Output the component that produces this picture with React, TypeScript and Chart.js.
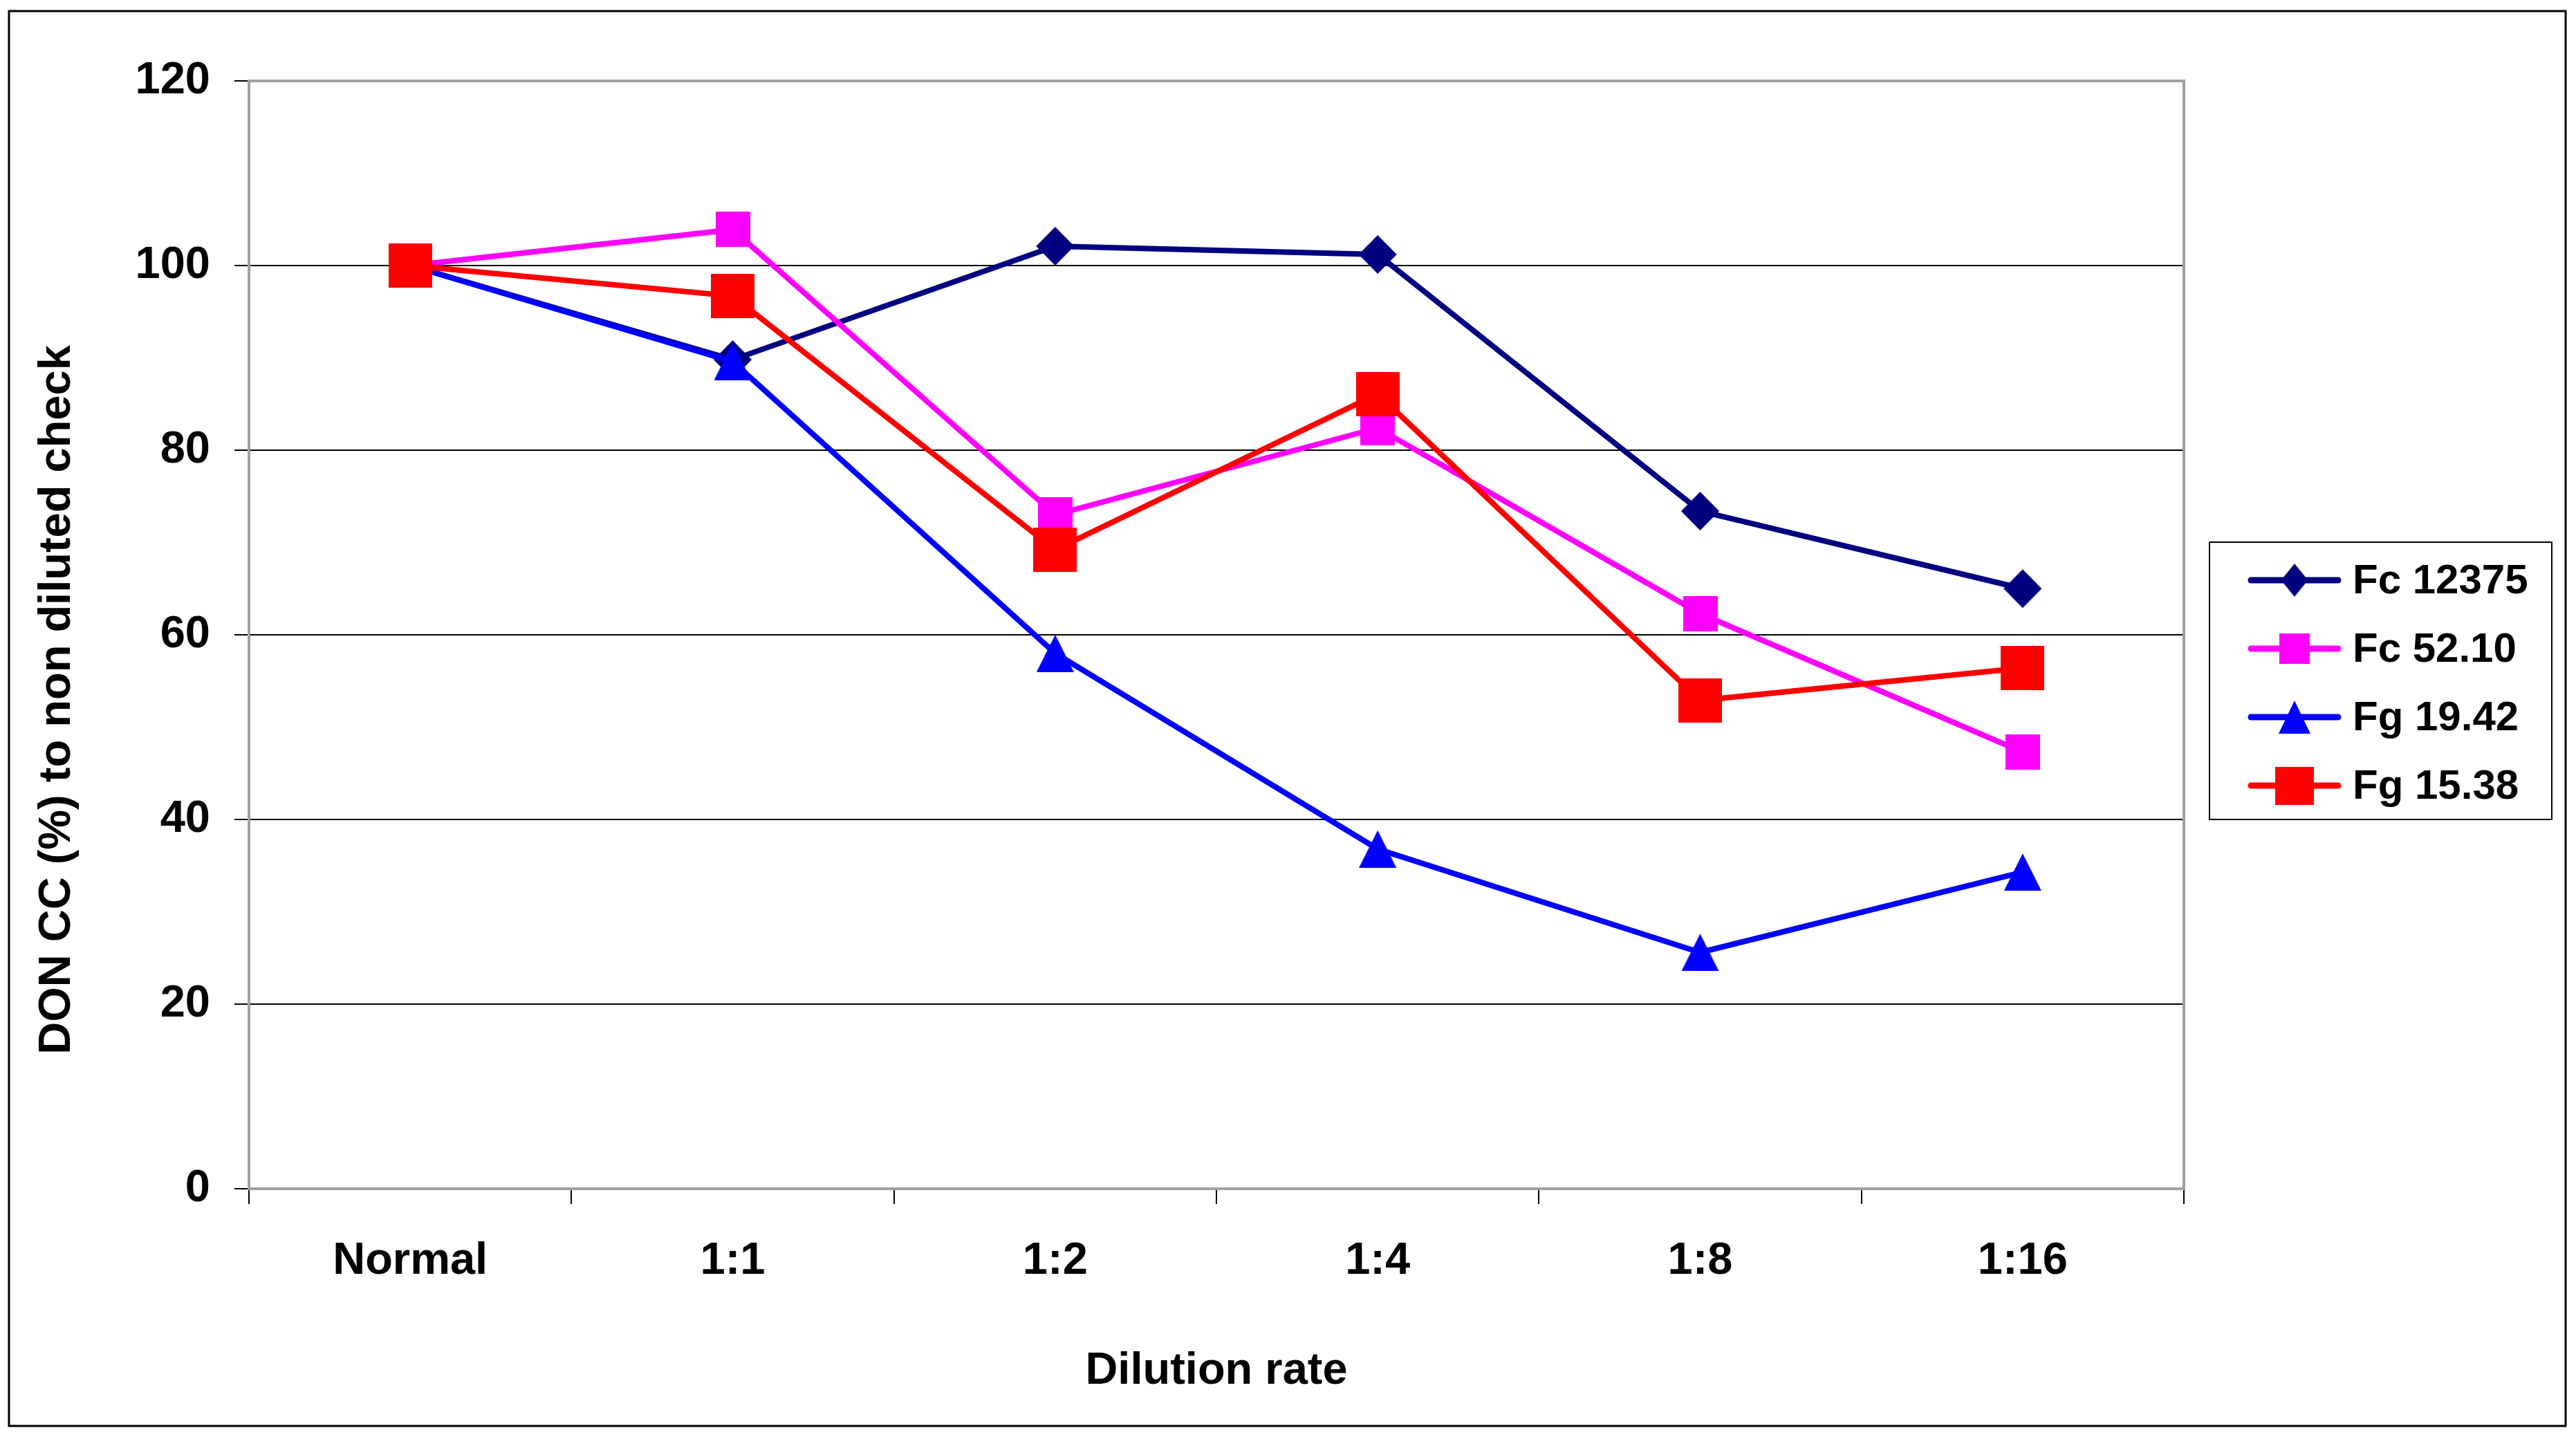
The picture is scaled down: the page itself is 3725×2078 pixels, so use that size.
import React, { useEffect, useRef } from 'react';
import { Chart, registerables } from 'chart.js';

Chart.register(...registerables);

const W = 3725;
const H = 2078;

const categories = ['Normal', '1:1', '1:2', '1:4', '1:8', '1:16'];
const seriesNames = ['Fc 12375', 'Fc 52.10', 'Fg 19.42', 'Fg 15.38'];
const fc12375 = [100, 89.8, 102.1, 101.2, 73.4, 65.0];
const fc5210 = [100, 103.9, 73.0, 82.4, 62.3, 47.3];
const fg1942 = [100, 89.6, 58.0, 36.8, 25.6, 34.3];
const fg1538 = [100, 96.7, 69.2, 86.1, 52.9, 56.4];
const seriesColors = ['#000080', '#FF00FF', '#0000FF', '#FF0000'];
const markerShapes = ['diamond', 'square', 'triangle', 'square'];
const yMin = 0;
const yMax = 120;
const yStep = 20;
const xTitle = 'Dilution rate';
const yTitle = 'DON CC (%) to non diluted check';

const FONT = "'Liberation Sans', Arial, Helvetica, sans-serif";

// marker sizes [w, h] in the plot and in the legend
const plotMarkerSizes = [[55, 56], [50, 51], [54, 54], [63, 64]];
const legendMarkerSizes = [[39, 48], [44, 44], [46, 48], [56, 55]];

function makeMarker(shape: string, color: string, w: number, h: number): HTMLCanvasElement {
  const c = document.createElement('canvas');
  c.width = w;
  c.height = h;
  const g = c.getContext('2d')!;
  g.fillStyle = color;
  g.beginPath();
  if (shape === 'diamond') {
    g.moveTo(w / 2, 0);
    g.lineTo(w, h / 2);
    g.lineTo(w / 2, h);
    g.lineTo(0, h / 2);
  } else if (shape === 'triangle') {
    g.moveTo(w / 2, 0);
    g.lineTo(w, h);
    g.lineTo(0, h);
  } else {
    g.rect(0, 0, w, h);
  }
  g.closePath();
  g.fill();
  return c;
}

export default function App() {
  const ref = useRef<HTMLCanvasElement | null>(null);

  useEffect(() => {
    if (!ref.current) return;
    const seriesData = [fc12375, fc5210, fg1942, fg1538];
    const plotMarkers = seriesColors.map((c, i) =>
      makeMarker(markerShapes[i], c, plotMarkerSizes[i][0], plotMarkerSizes[i][1])
    );
    const legendMarkers = seriesColors.map((c, i) =>
      makeMarker(markerShapes[i], c, legendMarkerSizes[i][0], legendMarkerSizes[i][1])
    );

    const decor = {
      id: 'decor',
      beforeDraw(chart: any) {
        const ctx = chart.ctx;
        ctx.save();
        ctx.fillStyle = '#ffffff';
        ctx.fillRect(0, 0, chart.width, chart.height);
        ctx.strokeStyle = '#000000';
        ctx.lineWidth = 3;
        ctx.strokeRect(13, 16, 3710 - 13, 2062 - 16);
        ctx.restore();
      },
      beforeDatasetsDraw(chart: any) {
        const ctx = chart.ctx;
        const a = chart.chartArea;
        ctx.save();
        ctx.strokeStyle = '#A0A0A0';
        ctx.lineWidth = 4;
        ctx.strokeRect(a.left, a.top, a.right - a.left, a.bottom - a.top);
        ctx.restore();
      },
      afterDraw(chart: any) {
        const ctx = chart.ctx;
        ctx.save();
        // y-axis title
        ctx.translate(83, 1012);
        ctx.rotate(-Math.PI / 2);
        ctx.fillStyle = '#000';
        ctx.font = `bold 65px ${FONT}`;
        ctx.textAlign = 'center';
        ctx.textBaseline = 'middle';
        ctx.fillText(yTitle, 0, 0);
        ctx.restore();

        // legend
        ctx.save();
        ctx.strokeStyle = '#000';
        ctx.lineWidth = 2;
        ctx.strokeRect(3195, 784, 3690 - 3195, 1185 - 784);
        chart.data.datasets.forEach((ds: any, i: number) => {
          const cy = 839 + i * 99;
          ctx.strokeStyle = ds.borderColor;
          ctx.lineWidth = 9;
          ctx.lineCap = 'round';
          ctx.beginPath();
          ctx.moveTo(3255, cy);
          ctx.lineTo(3381, cy);
          ctx.stroke();
          const m = legendMarkers[i];
          ctx.drawImage(m, 3318 - m.width / 2, cy - m.height / 2);
          ctx.fillStyle = '#000';
          ctx.font = `bold 60px ${FONT}`;
          ctx.textAlign = 'left';
          ctx.textBaseline = 'middle';
          ctx.fillText(ds.label, 3402, cy + 2);
        });
        ctx.restore();
      },
    };

    const chart = new Chart(ref.current, {
      type: 'line',
      data: {
        labels: categories,
        datasets: seriesNames.map((name, i) => ({
          label: name,
          data: seriesData[i],
          borderColor: seriesColors[i],
          backgroundColor: seriesColors[i],
          borderWidth: 8,
          pointStyle: plotMarkers[i] as any,
          pointRadius: 30,
          pointHoverRadius: 30,
          tension: 0,
          fill: false,
          order: 4 - i,
        })),
      },
      options: {
        animation: false,
        responsive: true,
        maintainAspectRatio: false,
        devicePixelRatio: 1,
        layout: { padding: { top: 117, right: 567, bottom: 0, left: 0 } },
        plugins: {
          legend: { display: false },
          tooltip: { enabled: false },
          title: { display: false },
        },
        scales: {
          x: {
            type: 'category',
            offset: true,
            grid: {
              offset: true,
              drawOnChartArea: false,
              drawTicks: true,
              tickLength: 22,
              color: '#000',
              lineWidth: 2,
            },
            border: { display: false },
            ticks: {
              color: '#000',
              font: { family: FONT, size: 65, weight: 'bold' },
              padding: 44,
              maxRotation: 0,
              autoSkip: false,
            },
            title: {
              display: true,
              text: xTitle,
              color: '#000',
              font: { family: FONT, size: 65, weight: 'bold' },
              padding: { top: 0, bottom: 56 },
            },
            afterFit(scale: any) {
              scale.height = H - 1719;
            },
          },
          y: {
            min: yMin,
            max: yMax,
            ticks: {
              stepSize: yStep,
              color: '#000',
              font: { family: FONT, size: 65, weight: 'bold' },
              padding: 35,
            },
            grid: {
              color: '#000',
              lineWidth: 2,
              tickLength: 21,
              drawTicks: true,
            },
            border: { display: false },
            afterFit(scale: any) {
              scale.width = 360;
            },
          },
        },
      },
      plugins: [decor],
    });
    return () => chart.destroy();
  }, []);

  return (
    <div style={{ position: 'absolute', left: 0, top: 0, width: W, height: H, background: '#fff' }}>
      <canvas ref={ref} />
    </div>
  );
}
